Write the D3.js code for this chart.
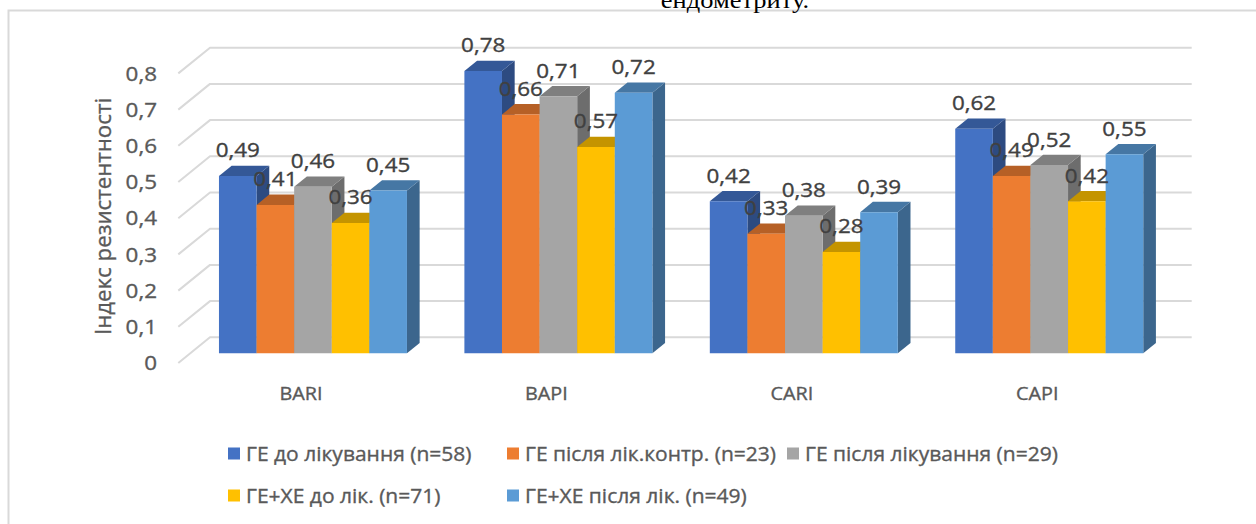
<!DOCTYPE html>
<html lang="uk">
<head>
<meta charset="utf-8">
<script src="https://cdn.jsdelivr.net/npm/d3@7"></script>
<style>
  html, body { margin: 0; padding: 0; background: #fff; }
  svg { display: block; }
  text { font-family: "Open Sans", "Noto Sans", sans-serif; }
  .ink { stroke-width: 0.35px; paint-order: stroke; }
</style>
</head>
<body>
<svg id="chart" width="1256" height="524"></svg>
<script>
// Resistance index by vessel group
const categories = ["BARI", "BAPI", "CARI", "CAPI"];
const seriesNames = [
  "ГЕ до лікування (n=58)",
  "ГЕ після лік.контр. (n=23)",
  "ГЕ після лікування (n=29)",
  "ГЕ+ХЕ до лік. (n=71)",
  "ГЕ+ХЕ після лік. (n=49)"
];
const seriesColors = ["#4472C4", "#ED7D31", "#A5A5A5", "#FFC000", "#5B9BD5"];
const geBefore     = [0.49, 0.78, 0.42, 0.62];
const geAfterCtrl  = [0.41, 0.66, 0.33, 0.49];
const geAfter      = [0.46, 0.71, 0.38, 0.52];
const gexeBefore   = [0.36, 0.57, 0.28, 0.42];
const gexeAfter    = [0.45, 0.72, 0.39, 0.55];
const seriesValues = [geBefore, geAfterCtrl, geAfter, gexeBefore, gexeAfter];
const tickValues = [0, 0.1, 0.2, 0.3, 0.4, 0.5, 0.6, 0.7, 0.8];
const axisTitle = "Індекс резистентності";
const titleTail = "ендометриту.";

const svg = d3.select("#chart");
const fmt = v => d3.format("~g")(v).replace(".", ",");

// widen text horizontally to the look of the original typeface
function stretch(sel, k = 1.1) {
  sel.each(function () {
    const w = this.getComputedTextLength();
    d3.select(this).attr("textLength", w * k).attr("lengthAdjust", "spacingAndGlyphs");
  });
}
// slightly heavier strokes for label text
function ink(sel, color) {
  sel.attr("class", "ink").attr("fill", color).attr("stroke", color);
}

// oblique projection of the 3D box
const DX = 31.7, DY = -25.7;          // full depth offset
const Z_FRONT = 0.377, Z_BACK = 0.777; // depth range of the columns
const y = d3.scaleLinear().domain([0, 0.8]).range([363, 363 - 0.8 * 362]);
const x0 = d3.scaleBand().domain(categories).range([178.3, 1160])
  .paddingInner(0.234).paddingOuter(0.117);
const x1 = d3.scaleBand().domain(d3.range(seriesNames.length)).range([0, x0.bandwidth()]);
const proj = (x, v, z) => [x + z * DX, y(v) + z * DY];

// frame
svg.append("rect").attr("x", 8.5).attr("y", 10.5).attr("width", 1400).attr("height", 600)
  .attr("fill", "none").attr("stroke", "#d9d9d9").attr("stroke-width", 2);

// caption tail
svg.append("text").attr("x", 735).attr("y", 8).attr("text-anchor", "middle")
  .style("font-family", "'Liberation Serif', 'Times New Roman', serif")
  .style("font-size", "23px").attr("fill", "#000").text(titleTail)
  .call(stretch, 1.15);

// gridlines: back wall + left wall
const [xL, xR] = x0.range();
const grid = svg.append("g").attr("stroke", "#d9d9d9").attr("stroke-width", 2).attr("fill", "none");
tickValues.forEach(v => {
  const a = proj(xL, v, 0), b = proj(xL, v, 1), c = proj(xR, v, 1);
  grid.append("polyline").attr("points", [a, b, c].map(p => p.join(",")).join(" "))
    .attr("stroke-linejoin", "round");
});

// tick labels
svg.append("g").selectAll("text").data(tickValues).join("text")
  .attr("x", 157).attr("y", d => y(d)).attr("dy", "0.36em")
  .attr("text-anchor", "end").style("font-size", "20px")
  .text(fmt).call(ink, "#595959").call(stretch, 1.12);

// axis title
svg.append("text").attr("transform", "translate(111,216.5) rotate(-90)")
  .attr("text-anchor", "middle").style("font-size", "21px")
  .text(axisTitle).call(ink, "#595959").call(stretch, 1.06);

// columns
const shade = (c, k) => { const r = d3.rgb(c); return d3.rgb(r.r * k, r.g * k, r.b * k).formatHex(); };
const bars = svg.append("g");
categories.forEach((cat, ci) => {
  seriesValues.forEach((vals, si) => {
    const v = vals[ci];
    const xl = x0(cat) + x1(si), xr = xl + x1.bandwidth();
    const col = seriesColors[si];
    const pts = (arr) => arr.map(p => p.join(",")).join(" ");
    const g = bars.append("g");
    // right side
    g.append("polygon").attr("points", pts([
      proj(xr, 0, Z_FRONT), proj(xr, v, Z_FRONT), proj(xr, v, Z_BACK), proj(xr, 0, Z_BACK)
    ])).attr("fill", shade(col, 0.66));
    // top
    g.append("polygon").attr("points", pts([
      proj(xl, v, Z_FRONT), proj(xr, v, Z_FRONT), proj(xr, v, Z_BACK), proj(xl, v, Z_BACK)
    ])).attr("fill", shade(col, 0.77));
    // front
    g.append("polygon").attr("points", pts([
      proj(xl, 0, Z_FRONT), proj(xr, 0, Z_FRONT), proj(xr, v, Z_FRONT), proj(xl, v, Z_FRONT)
    ])).attr("fill", col);
  });
});

// value labels
const lab = svg.append("g");
categories.forEach((cat, ci) => {
  seriesValues.forEach((vals, si) => {
    const v = vals[ci];
    const p = proj(x0(cat) + x1(si) + x1.bandwidth() / 2, v, Z_FRONT);
    lab.append("text").attr("x", p[0]).attr("y", p[1] - 18.5)
      .attr("text-anchor", "middle").style("font-size", "20px")
      .text(fmt(v)).call(ink, "#404040").call(stretch, 1.12);
  });
});

// category labels
svg.append("g").selectAll("text").data(categories).join("text")
  .attr("x", d => x0(d) + x0.bandwidth() / 2).attr("y", 400)
  .attr("text-anchor", "middle").style("font-size", "18px")
  .text(d => d).call(ink, "#595959").call(stretch, 1.1);

// legend
const legendPos = [[228, 447.5], [507, 447.5], [787, 447.5], [228, 489.5], [507, 489.5]];
const leg = svg.append("g");
seriesNames.forEach((name, i) => {
  const [lx, ly] = legendPos[i];
  leg.append("rect").attr("x", lx).attr("y", ly).attr("width", 12).attr("height", 12)
    .attr("fill", seriesColors[i]);
  leg.append("text").attr("x", lx + 18).attr("y", ly + 6).attr("dy", "0.36em")
    .style("font-size", "20px").text(name).call(ink, "#595959").call(stretch, 1.05);
});
</script>
</body>
</html>
